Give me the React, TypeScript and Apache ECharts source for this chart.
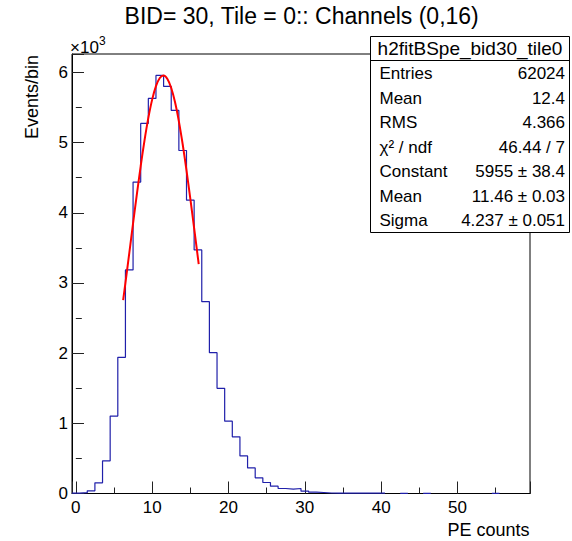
import React, { useEffect, useRef } from "react";
import * as echarts from "echarts";

// ---- data ----
const histXMin = -0.5;
const binWidth = 1;
// counts per bin, bins centred on 0,1,2,...,59
const binCounts = [
  4, 12, 38, 152, 466, 1103, 1940, 3185, 4437, 5273,
  5629, 5957, 5800, 5458, 4887, 4180, 3471, 2733, 2006, 1498,
  1031, 807, 536, 365, 223, 157, 104, 71, 61, 71,
  33, 19, 14, 7, 6, 6, 5, 5, 4, 4,
  4, 0, 0, 3, 0, 0, 3, 0, 0, 0,
  0, 0, 0, 0, 0, 3, 0, 0, 0, 0,
];
// gaussian fit curve, sampled points
const fitX = [6.2, 6.5, 7, 7.5, 8, 8.5, 9, 9.5, 10, 10.5, 11, 11.5, 12, 12.5, 13, 13.5, 14, 14.5, 15, 15.5, 16, 16.1];
const fitY = [2755, 3001, 3422, 3848, 4267, 4666, 5031, 5351, 5612, 5804, 5920, 5955, 5907, 5778, 5574, 5303, 4976, 4604, 4200, 3780, 3354, 3269];

const yAxisMax = 6262;
const titleText = "BID= 30, Tile = 0:: Channels (0,16)";
const xAxisTitle = "PE counts";
const yAxisTitle = "Events/bin";
const statsTitle = "h2fitBSpe_bid30_tile0";
const statsLabels = ["Entries", "Mean", "RMS", "\u03c7\u00b2 / ndf", "Constant", "Mean", "Sigma"];
const statsValues = ["62024", "12.4", "4.366", "46.44 / 7", "5955 \u00b1 38.4", "11.46 \u00b1 0.03", "4.237 \u00b1 0.051"];

const FONT = "'Liberation Sans', Arial, Helvetica, sans-serif";

export default function App() {
  const ref = useRef<HTMLDivElement>(null);

  useEffect(() => {
    if (!ref.current) return;
    const chart = echarts.init(ref.current, undefined, { renderer: "svg" });

    // histogram outline; empty bins lie on the axis, so the outline is broken there
    const histPoints: any[] = [];
    binCounts.forEach((v, i) => {
      const left = histXMin + i * binWidth;
      if (v === 0) {
        histPoints.push([left, "-"]);
      } else {
        histPoints.push([left, v], [left + binWidth, v]);
      }
    });
    const fitPoints = fitX.map((x, i) => [x, fitY[i]]);

    const box = { x: 370.5, y: 36.5, w: 199, h: 196 };
    const rowY0 = 73.5;
    const rowStep = 24.5;

    const statsGraphics: any[] = [
      {
        type: "rect",
        z: 100,
        shape: { x: box.x, y: box.y, width: box.w, height: box.h },
        style: { fill: "#fff", stroke: "#000", lineWidth: 1 },
      },
      {
        type: "line",
        z: 101,
        shape: { x1: box.x, y1: 60.5, x2: box.x + box.w, y2: 60.5 },
        style: { stroke: "#000", lineWidth: 1 },
      },
      {
        type: "text",
        z: 101,
        x: box.x + box.w / 2,
        y: 48.5,
        style: { text: statsTitle, fontSize: 19, fontFamily: FONT, fill: "#000", align: "center", verticalAlign: "middle" },
      },
    ];
    statsLabels.forEach((lab, i) => {
      statsGraphics.push({
        type: "text",
        z: 101,
        x: 379.5,
        y: rowY0 + i * rowStep,
        style: { text: lab, fontSize: 17, fontFamily: FONT, fill: "#000", align: "left", verticalAlign: "middle" },
      });
      statsGraphics.push({
        type: "text",
        z: 101,
        x: 565,
        y: rowY0 + i * rowStep,
        style: { text: statsValues[i], fontSize: 17, fontFamily: FONT, fill: "#000", align: "right", verticalAlign: "middle" },
      });
    });

    const option: any = {
      animation: false,
      backgroundColor: "#fff",
      grid: {
        left: 72,
        top: 54,
        width: 458,
        height: 439.5,
        show: true,
        borderColor: "#000",
        borderWidth: 1,
        backgroundColor: "transparent",
      },
      xAxis: [
        {
          type: "value",
          min: -0.5,
          max: 59.5,
          splitNumber: 6,
          axisLine: { show: true, onZero: false, lineStyle: { color: "#000", width: 1 } },
          axisTick: { show: true, inside: true, length: 12, lineStyle: { color: "#222", width: 1 } },
          axisLabel: {
            margin: 5,
            fontSize: 17,
            color: "#000",
            fontFamily: FONT,
            formatter: (v: number) => {
              const r = Math.round(v);
              return Math.abs(v - r) < 1e-9 && r % 10 === 0 ? String(r) : "";
            },
          },
          splitLine: { show: false },
        },
        {
          type: "value",
          min: -0.5,
          max: 59.5,
          splitNumber: 12,
          position: "bottom",
          axisLine: { show: false },
          axisTick: { show: true, inside: true, length: 6, lineStyle: { color: "#222", width: 1 } },
          axisLabel: { show: false },
          splitLine: { show: false },
        },
      ],
      yAxis: [
        {
          type: "value",
          min: 0,
          max: yAxisMax,
          interval: 1000,
          axisLine: { show: true, onZero: false, lineStyle: { color: "#000", width: 1 } },
          axisTick: { show: true, inside: true, length: 12, lineStyle: { color: "#222", width: 1 } },
          axisLabel: {
            margin: 4,
            fontSize: 17,
            color: "#000",
            fontFamily: FONT,
            formatter: (v: number) => (Math.round(v) % 1000 === 0 ? String(Math.round(v) / 1000) : ""),
          },
          splitLine: { show: false },
        },
        {
          type: "value",
          min: 0,
          max: yAxisMax,
          interval: 500,
          position: "left",
          axisLine: { show: false },
          axisTick: { show: true, inside: true, length: 6, lineStyle: { color: "#222", width: 1 } },
          axisLabel: { show: false },
          splitLine: { show: false },
        },
      ],
      series: [
        {
          type: "line",
          name: "hist",
          xAxisIndex: 0,
          yAxisIndex: 0,
          data: histPoints,
          connectNulls: false,
          showSymbol: false,
          symbol: "none",
          z: 2,
          lineStyle: { color: "#2020aa", width: 1.2 },
        },
        {
          type: "line",
          name: "fit",
          xAxisIndex: 0,
          yAxisIndex: 0,
          data: fitPoints,
          showSymbol: false,
          symbol: "none",
          smooth: 0.3,
          z: 3,
          lineStyle: { color: "#ff0000", width: 2 },
        },
      ],
      graphic: [
        {
          type: "text",
          x: 301.7,
          y: 15.7,
          style: { text: titleText, fontSize: 23, fontFamily: FONT, fill: "#000", align: "center", verticalAlign: "middle" },
        },
        {
          type: "text",
          x: 70,
          y: 47.5,
          style: { text: "\u00d710", fontSize: 17, fontFamily: FONT, fill: "#000", align: "left", verticalAlign: "middle" },
        },
        {
          type: "text",
          x: 99,
          y: 41,
          style: { text: "3", fontSize: 12, fontFamily: FONT, fill: "#000", align: "left", verticalAlign: "middle" },
        },
        {
          type: "text",
          x: 31.5,
          y: 55,
          rotation: Math.PI / 2,
          style: { text: yAxisTitle, fontSize: 18, fontFamily: FONT, fill: "#000", align: "right", verticalAlign: "middle" },
        },
        {
          type: "text",
          x: 529.5,
          y: 530,
          style: { text: xAxisTitle, fontSize: 18, fontFamily: FONT, fill: "#000", align: "right", verticalAlign: "middle" },
        },
        ...statsGraphics,
      ],
    };

    chart.setOption(option);
    return () => chart.dispose();
  }, []);

  return (
    <div
      ref={ref}
      style={{ position: "fixed", left: 0, top: 0, width: 572, height: 541, background: "#fff" }}
    />
  );
}
